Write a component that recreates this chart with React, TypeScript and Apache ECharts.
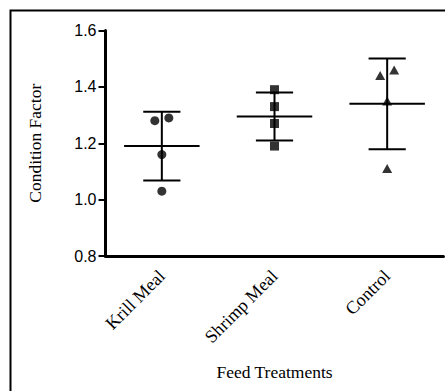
import React, { useEffect, useRef } from "react";
import * as echarts from "echarts";

const categories = ["Krill Meal", "Shrimp Meal", "Control"];
const krillValues = [1.28, 1.29, 1.16, 1.03];
const shrimpValues = [1.39, 1.33, 1.27, 1.19];
const controlValues = [1.44, 1.46, 1.35, 1.11];
const krillJitter = [-7, 7, 0, 0];
const shrimpJitter = [0, 0, 0, 0];
const controlJitter = [-7, 7, 0, 0];
const means = [1.19, 1.295, 1.34];
const sds = [0.122, 0.085, 0.161];
const yTicks = [0.8, 1.0, 1.2, 1.4, 1.6];

const serif = "'Liberation Serif', 'Times New Roman', serif";
const sans = "'Liberation Sans', Arial, sans-serif";

export default function App() {
  const ref = useRef<HTMLDivElement>(null);
  useEffect(() => {
    document.body.style.margin = "0";
    if (!ref.current) return;
    const chart = echarts.init(ref.current, null, { renderer: "svg" });
    const pts = (vals: number[], jit: number[], idx: number) =>
      vals.map((v, i) => ({ value: [idx, v], symbolOffset: [jit[i], 0] }));
    const stats = means.map((m, i) => [i, m, m - sds[i], m + sds[i]]);
    chart.setOption({
      animation: false,
      graphic: [
        {
          type: "rect",
          left: 8,
          top: 8,
          shape: { x: 0, y: 0, width: 460, height: 420 },
          style: { fill: "none", stroke: "#000", lineWidth: 2 },
          silent: true,
        },
      ],
      grid: { left: 105.5, right: 1.5, top: 30.5, bottom: 135, outerBoundsMode: "none", containLabel: false },
      xAxis: {
        type: "category",
        data: categories,
        boundaryGap: true,
        name: "Feed Treatments",
        nameLocation: "middle",
        nameGap: 107,
        nameTextStyle: { fontFamily: serif, fontSize: 17.5, color: "#000" },
        axisLine: { lineStyle: { color: "#000", width: 3 } },
        axisTick: { alignWithLabel: true, length: 9, lineStyle: { color: "#000", width: 3 } },
        axisLabel: { rotate: 45, fontFamily: serif, fontSize: 18, color: "#000", margin: 17 },
        splitLine: { show: false },
      },
      yAxis: {
        type: "value",
        min: yTicks[0],
        max: yTicks[yTicks.length - 1],
        interval: 0.2,
        name: "Condition Factor",
        nameLocation: "middle",
        nameGap: 62,
        nameRotate: 90,
        nameTextStyle: { fontFamily: serif, fontSize: 17.5, color: "#000" },
        axisLine: { show: true, lineStyle: { color: "#000", width: 3 } },
        axisTick: { show: true, length: 7, lineStyle: { color: "#000", width: 2 } },
        axisLabel: {
          fontFamily: sans,
          fontSize: 16,
          color: "#000",
          margin: 9,
          formatter: (v: number) => v.toFixed(1),
        },
        splitLine: { show: false },
      },
      series: [
        {
          type: "custom",
          data: stats,
          renderItem: (params: any, api: any) => {
            const x = api.value(0);
            const m = api.coord([x, api.value(1)]);
            const lo = api.coord([x, api.value(2)]);
            const hi = api.coord([x, api.value(3)]);
            const band = api.size([1, 0])[0];
            const mw = band * 0.335;
            const cw = band * 0.165;
            const st = { stroke: "#000", lineWidth: 2 };
            return {
              type: "group",
              children: [
                { type: "line", shape: { x1: m[0] - mw, y1: m[1], x2: m[0] + mw, y2: m[1] }, style: st },
                { type: "line", shape: { x1: lo[0], y1: lo[1], x2: hi[0], y2: hi[1] }, style: st },
                { type: "line", shape: { x1: hi[0] - cw, y1: hi[1], x2: hi[0] + cw, y2: hi[1] }, style: st },
                { type: "line", shape: { x1: lo[0] - cw, y1: lo[1], x2: lo[0] + cw, y2: lo[1] }, style: st },
              ],
            };
          },
          z: 2,
        },
        {
          type: "scatter",
          symbol: "circle",
          symbolSize: 9,
          itemStyle: { color: "#000" },
          data: pts(krillValues, krillJitter, 0),
          z: 3,
        },
        {
          type: "scatter",
          symbol: "rect",
          symbolSize: 9,
          itemStyle: { color: "#000" },
          data: pts(shrimpValues, shrimpJitter, 1),
          z: 3,
        },
        {
          type: "scatter",
          symbol: "triangle",
          symbolSize: [10, 9],
          itemStyle: { color: "#000" },
          data: pts(controlValues, controlJitter, 2),
          z: 3,
        },
      ],
    });
    return () => chart.dispose();
  }, []);
  return <div ref={ref} style={{ width: 445, height: 391 }} />;
}
